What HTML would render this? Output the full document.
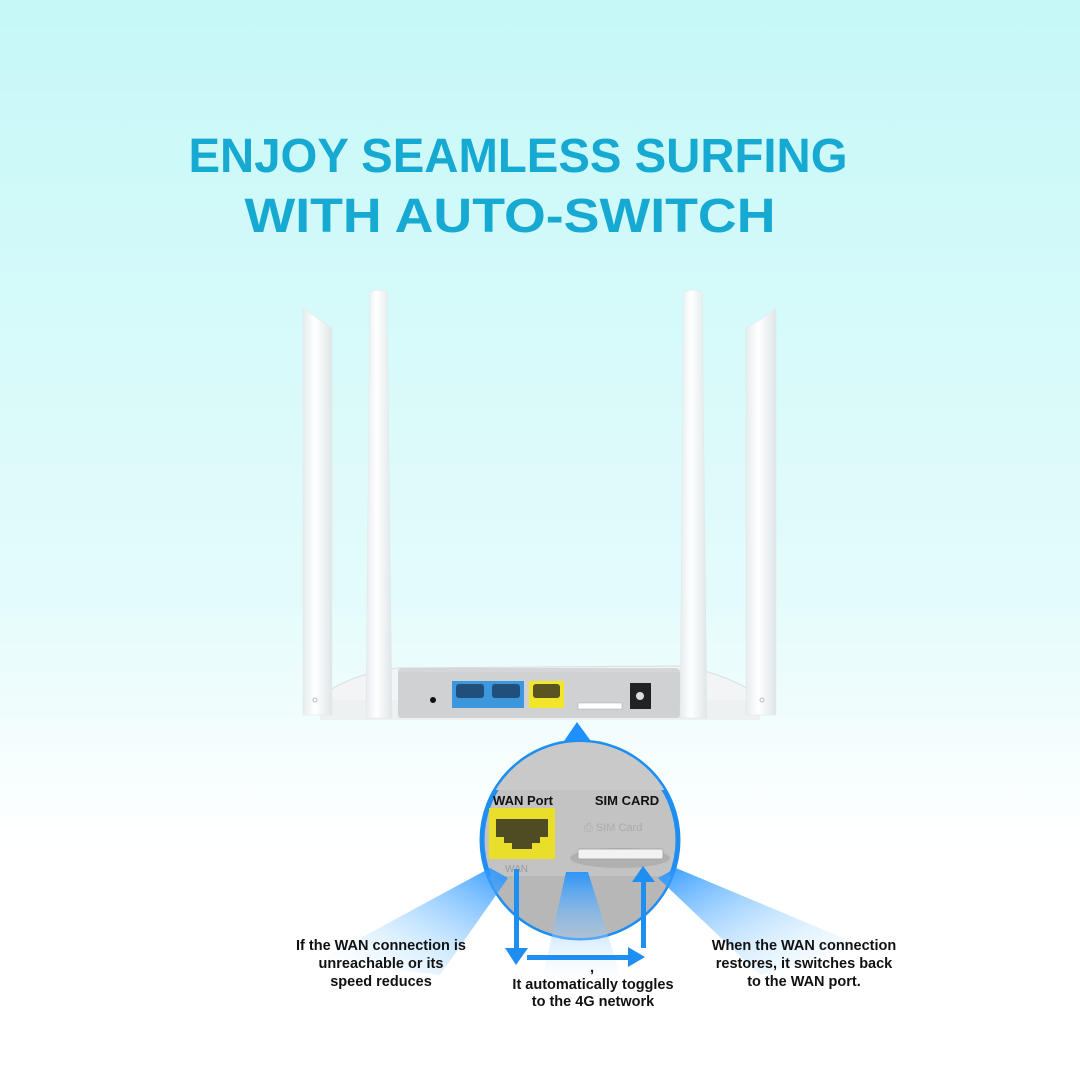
<!DOCTYPE html>
<html><head><meta charset="utf-8"><style>
html,body{margin:0;padding:0;width:1080px;height:1080px;overflow:hidden}
body{background:linear-gradient(180deg,#c6f8f8 0%,#e4fbfb 55%,#ffffff 78%,#ffffff 100%);font-family:"Liberation Sans",sans-serif}
</style></head><body>
<svg width="1080" height="1080" viewBox="0 0 1080 1080" xmlns="http://www.w3.org/2000/svg" style="position:absolute;left:0;top:0">
<defs>
<linearGradient id="ant" x1="0" x2="1"><stop offset="0" stop-color="#e6ecee"/><stop offset="0.4" stop-color="#ffffff"/><stop offset="1" stop-color="#dfe6e8"/></linearGradient>
<linearGradient id="beamL" x1="1" y1="0" x2="0" y2="1"><stop offset="0" stop-color="#1e90ff"/><stop offset="0.8" stop-color="#bfe6ff" stop-opacity="0.2"/><stop offset="1" stop-color="#ffffff" stop-opacity="0"/></linearGradient>
<linearGradient id="beamR" x1="0" y1="0" x2="1" y2="1"><stop offset="0" stop-color="#1e90ff"/><stop offset="0.8" stop-color="#bfe6ff" stop-opacity="0.2"/><stop offset="1" stop-color="#ffffff" stop-opacity="0"/></linearGradient>
<linearGradient id="beamM" x1="0" y1="0" x2="0" y2="1"><stop offset="0" stop-color="#1e90ff"/><stop offset="1" stop-color="#ffffff" stop-opacity="0"/></linearGradient>
<clipPath id="cc"><circle cx="580" cy="840" r="98"/></clipPath>
</defs>
<text x="518" y="172" text-anchor="middle" font-family="Liberation Sans" font-weight="bold" font-size="48" fill="#16a9d2" textLength="659" lengthAdjust="spacingAndGlyphs">ENJOY SEAMLESS SURFING</text>
<text x="510" y="232" text-anchor="middle" font-family="Liberation Sans" font-weight="bold" font-size="48" fill="#16a9d2" textLength="531" lengthAdjust="spacingAndGlyphs">WITH AUTO-SWITCH</text>

<path d="M330 690 Q360 672 398 668 L680 666 Q720 672 750 690 L750 705 L330 705 Z" fill="#f2f4f5" stroke="#d8dde0"/>
<rect x="398" y="668" width="282" height="52" rx="4" fill="#d4d6d8"/>
<rect x="320" y="700" width="440" height="20" fill="#eef1f2"/>
<rect x="398" y="672" width="282" height="46" rx="3" fill="#cfd1d3"/>
<circle cx="433" cy="700" r="3" fill="#111"/>
<rect x="452" y="681" width="72" height="27" fill="#3d97dc"/>
<rect x="456" y="684" width="28" height="14" rx="3" fill="#1f4f7a"/><rect x="492" y="684" width="28" height="14" rx="3" fill="#1f4f7a"/>
<rect x="529" y="681" width="35" height="27" fill="#f2e52a"/>
<rect x="533" y="684" width="27" height="14" rx="3" fill="#5a5520"/>
<rect x="578" y="703" width="44" height="6" fill="#fff" stroke="#aaa" stroke-width="0.5"/>
<rect x="630" y="683" width="21" height="26" fill="#222"/><circle cx="640" cy="696" r="4" fill="#ddd"/>
<path d="M303 308 L320 320 L332 328 L332 715 L303 715 Z" fill="url(#ant)" stroke="#e0e6e8" stroke-width="0.5"/>
<path d="M370 292 Q378 288 387 292 L392 718 L366 718 Z" fill="url(#ant)" stroke="#e0e6e8" stroke-width="0.5"/>
<path d="M684 292 Q692 288 702 292 L707 718 L680 718 Z" fill="url(#ant)" stroke="#e0e6e8" stroke-width="0.5"/>
<path d="M776 308 L760 320 L746 328 L746 715 L776 715 Z" fill="url(#ant)" stroke="#e0e6e8" stroke-width="0.5"/>
<circle cx="315" cy="700" r="2" fill="none" stroke="#bbb"/><circle cx="762" cy="700" r="2" fill="none" stroke="#bbb"/>

<polygon points="577,722 562,744 593,744" fill="#1e90ff"/>
<circle cx="580" cy="840" r="98" fill="#c3c3c3" stroke="#1e8ff0" stroke-width="5"/>
<g clip-path="url(#cc)">
<rect x="470" y="735" width="220" height="55" fill="#c9c9c9"/>
<rect x="470" y="876" width="220" height="80" fill="#b7b7b7"/>
<rect x="489" y="808" width="66" height="51" fill="#e9df2a"/>
<path d="M496 819 h52 v18 h-8 v6 h-8 v6 h-20 v-6 h-8 v-6 h-8 z" fill="#4f4b22"/>
<ellipse cx="620" cy="858" rx="50" ry="10" fill="#b0b0b0"/>
<rect x="578" y="849" width="85" height="10" rx="2" fill="#f2f2f2" stroke="#999" stroke-width="0.7"/>
<text x="584" y="831" font-size="11" fill="#aaa" font-family="Liberation Sans">⎙ SIM  Card</text>
<text x="505" y="872" font-size="10" fill="#999" font-family="Liberation Sans">WAN</text>
</g>
<text x="523" y="805" text-anchor="middle" font-weight="bold" font-size="13" fill="#111">WAN Port</text>
<text x="627" y="805" text-anchor="middle" font-weight="bold" font-size="13" fill="#111">SIM CARD</text>

<polygon points="490,868 508,878 440,975 320,960" fill="url(#beamL)" opacity="0.9"/>
<polygon points="566,872 588,872 625,990 540,990" fill="url(#beamM)" opacity="0.9"/>
<polygon points="658,878 676,868 860,945 760,975" fill="url(#beamR)" opacity="0.9"/>

<g fill="#1e8ff0" stroke="none">
<rect x="514" y="869" width="5" height="82"/>
<polygon points="505,948 528,948 516,965"/>
<rect x="527" y="955" width="105" height="5"/>
<polygon points="628,947 645,957 628,967"/>
<rect x="641" y="880" width="5" height="68"/>
<polygon points="632,882 655,882 643,866"/>
</g>

<g font-family="Liberation Sans" font-weight="bold" font-size="14.5" fill="#111" text-anchor="middle">
<text x="381" y="950">If the WAN connection is</text>
<text x="381" y="968">unreachable or its</text>
<text x="381" y="986">speed reduces</text>
<text x="592" y="972">,</text>
<text x="593" y="989">It automatically toggles</text>
<text x="593" y="1006">to the 4G network</text>
<text x="804" y="950">When the WAN connection</text>
<text x="804" y="968">restores, it switches back</text>
<text x="804" y="986">to the WAN port.</text>
</g>
</svg>
</body></html>
